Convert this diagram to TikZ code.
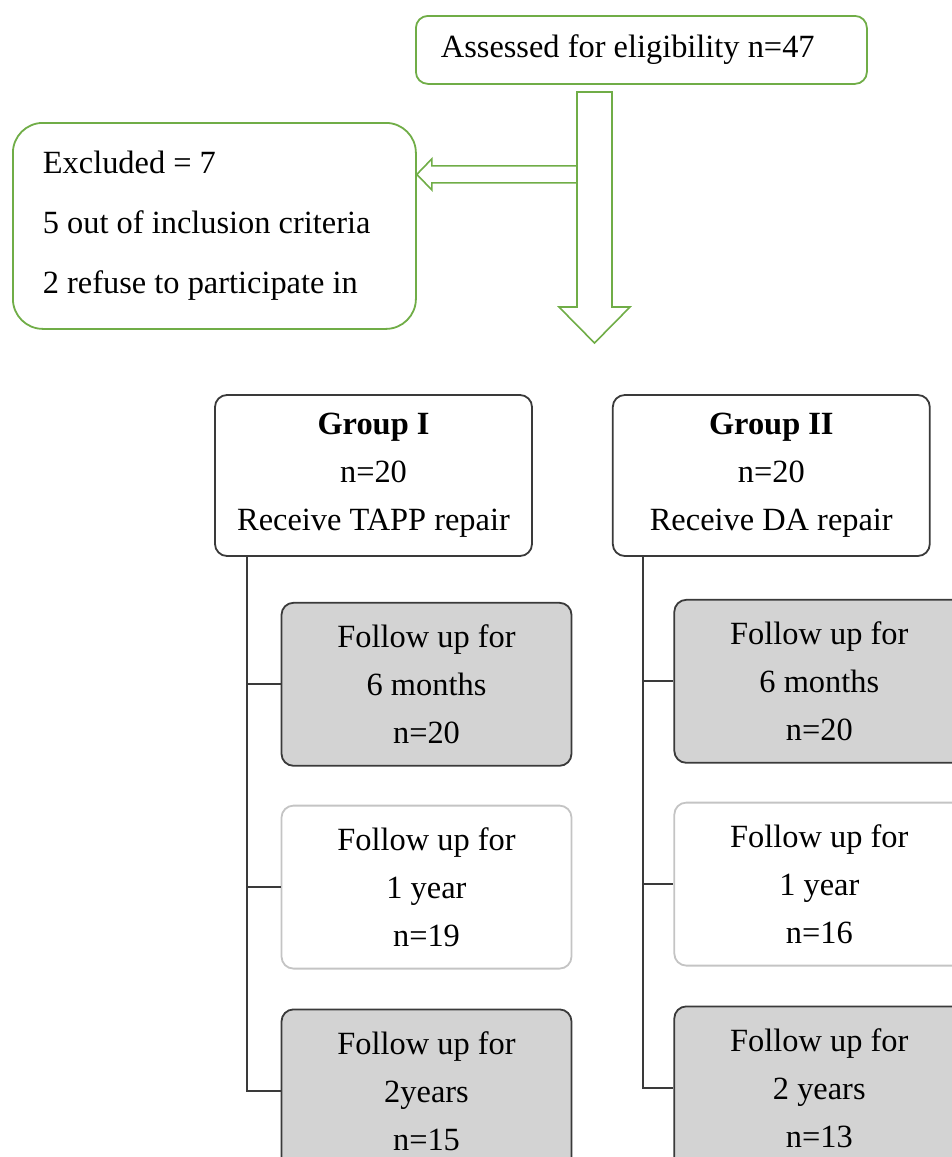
\documentclass[tikz,border=0pt]{standalone}
\usepackage{fontspec}
\setmainfont{Liberation Serif}
\usepackage{xcolor}
\usepackage{tikz}
\usetikzlibrary{positioning}
\definecolor{boxgreen}{HTML}{70AD47}
\definecolor{boxgray}{HTML}{D3D3D3}
\definecolor{darkline}{HTML}{3A3A3A}
\definecolor{lightline}{HTML}{C4C4C4}
\tikzstyle{screen} = [rectangle, draw=boxgreen, line width=0.9pt, fill=white, align=flush left]
\tikzstyle{group} = [rectangle, draw=darkline, line width=0.9pt, fill=white, rounded corners=6pt, minimum width=158.5pt, minimum height=80.5pt, align=center]
\tikzstyle{followgray} = [rectangle, draw=darkline, line width=0.9pt, fill=boxgray, rounded corners=6pt, minimum width=145pt, minimum height=81.5pt, align=center]
\tikzstyle{followwhite} = [rectangle, draw=lightline, line width=0.9pt, fill=white, rounded corners=6pt, minimum width=145pt, minimum height=81.5pt, align=center]
\tikzstyle{blockarrow} = [draw=boxgreen, line width=0.8pt, fill=white]
\tikzstyle{tree} = [draw=darkline, line width=1pt]

\begin{document}
\begin{tikzpicture}[node distance=19pt, every node/.style={font=\fontsize{16.2}{24}\selectfont}]

\useasboundingbox (0,0) rectangle (476pt,-578.5pt);
\clip (0,0) rectangle (476pt,-578.5pt);

% Screening
\node[screen, anchor=north west, rounded corners=6pt, inner xsep=12.5pt, text width=200.5pt, minimum height=34pt] (assess) at (207.5pt,-7.5pt) {Assessed for eligibility n=47};
\node[screen, anchor=north west, rounded corners=15pt, inner xsep=15pt, text width=171.5pt, minimum height=103pt] (excluded) at (6pt,-61pt) {Excluded = 7\\[6pt]5 out of inclusion criteria\\[6pt]2 refuse to participate in};

% Block arrows
\coordinate (droptop) at (297.25pt,-46pt);
\coordinate (branch) at ([yshift=25.75pt]excluded.east);
\draw[blockarrow] (branch) -- ++(7.5pt,7.75pt) -- ++(0,-3.5pt) -- ++(73.5pt,0) -- ++(0,-8.5pt) -- ++(-73.5pt,0) -- ++(0,-3.5pt) -- cycle;
\draw[blockarrow] ([xshift=-8.75pt]droptop) -- ++(0,-107.5pt) -- ++(-9pt,0) -- ++(17.75pt,-18pt) -- ++(17.75pt,18pt) -- ++(-9pt,0) -- ++(0,107.5pt) -- cycle;

% Groups
\node[group] (g1) at (186.75pt,-237.75pt) {\textbf{Group I}\\n=20\\Receive TAPP repair};
\node[group, right=39.5pt of g1] (g2) {\textbf{Group II}\\n=20\\Receive DA repair};

% Follow up, group I
\node[followgray, below=22.5pt of g1, xshift=26.5pt] (f1a) {Follow up for\\6 months\\n=20};
\node[followwhite, below=of f1a] (f1b) {Follow up for\\1 year\\n=19};
\node[followgray, below=19.5pt of f1b] (f1c) {Follow up for\\2years\\n=15};

% Follow up, group II
\node[followgray, below=21pt of g2, xshift=24pt] (f2a) {Follow up for\\6 months\\n=20};
\node[followwhite, below=of f2a] (f2b) {Follow up for\\1 year\\n=16};
\node[followgray, below=19.5pt of f2b] (f2c) {Follow up for\\2 years\\n=13};

% Tree lines
\coordinate (trunk1) at ([xshift=16.5pt]g1.south west);
\coordinate (trunk2) at ([xshift=15.5pt]g2.south west);
\draw[tree] (trunk1) |- (f1c.west);
\draw[tree] (trunk1 |- f1a.west) -- (f1a.west);
\draw[tree] (trunk1 |- f1b.west) -- (f1b.west);
\draw[tree] (trunk2) |- (f2c.west);
\draw[tree] (trunk2 |- f2a.west) -- (f2a.west);
\draw[tree] (trunk2 |- f2b.west) -- (f2b.west);

\end{tikzpicture}
\end{document}
